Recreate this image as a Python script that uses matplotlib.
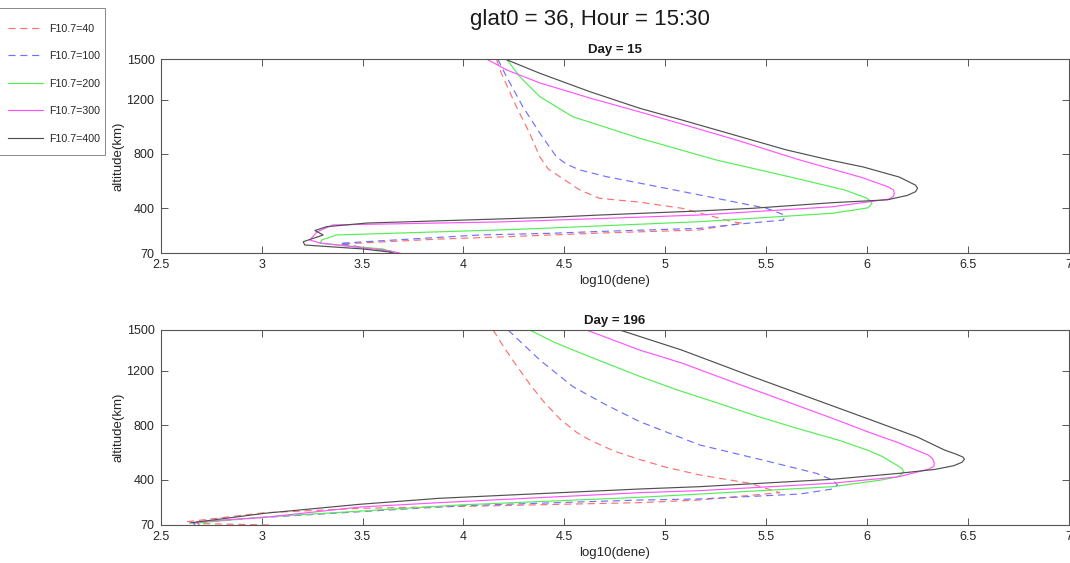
import matplotlib

matplotlib.use("Agg")
import matplotlib.pyplot as plt
from matplotlib.patches import Rectangle

# ---- data: log10(dene) vs altitude (km) ----
LABELS = ["F10.7=40", "F10.7=100", "F10.7=200", "F10.7=300", "F10.7=400"]
DAYS = [15, 196]

# Day = 15
D15_F40_X = [4.163, 4.188, 4.262, 4.328, 4.378, 4.420, 4.477, 4.576, 4.675, 4.873, 5.081, 5.170, 5.333, 5.384,
             5.259, 5.170, 4.675, 4.180, 3.883, 3.388, 3.500, 3.601, 3.650]
D15_F40_ALT = [1500, 1395, 1149, 953, 780, 690, 633, 535, 473, 445, 400, 365, 301, 289,
               262, 240, 217, 188, 173, 136, 110, 92, 70]
D15_F100_X = [4.170, 4.213, 4.294, 4.378, 4.460, 4.510, 4.577, 4.708, 4.877, 5.170, 5.500, 5.591,
              5.586, 5.368, 5.170, 4.675, 4.427, 4.081, 3.388, 3.500, 3.636, 3.670]
D15_F100_ALT = [1500, 1370, 1149, 955, 780, 725, 682, 633, 584, 498, 400, 350,
                313, 284, 252, 229, 215, 203, 142, 110, 85, 70]
D15_F200_X = [4.213, 4.279, 4.378, 4.541, 4.873, 5.252, 5.620, 5.888, 5.996, 6.015, 6.024, 6.015, 6.001,
              5.829, 5.170, 4.427, 4.180, 3.371, 3.298, 3.289, 3.450, 3.601, 3.670]
D15_F200_ALT = [1500, 1370, 1223, 1075, 916, 756, 630, 535, 476, 455, 437, 418, 402,
                363, 301, 254, 240, 203, 166, 142, 118, 100, 70]
D15_F300_X = [4.114, 4.213, 4.378, 4.625, 4.873, 5.081, 5.368, 5.650, 5.982, 6.105, 6.130, 6.135, 6.130,
              6.110, 5.829, 5.170, 4.675, 4.180, 3.353, 3.274, 3.239, 3.289, 3.601, 3.685]
D15_F300_ALT = [1500, 1420, 1324, 1213, 1110, 1021, 896, 763, 623, 557, 535, 510, 488,
                468, 411, 350, 324, 299, 277, 225, 166, 144, 92, 70]
D15_F400_X = [4.205, 4.378, 4.625, 4.873, 5.081, 5.600, 5.813, 5.981, 6.159, 6.200, 6.240, 6.250, 6.240,
              6.200, 6.100, 5.829, 5.437, 5.170, 4.675, 4.427, 4.180, 3.522, 3.322, 3.264, 3.305,
              3.206, 3.214, 3.501, 3.635, 3.650]
D15_F400_ALT = [1500, 1395, 1260, 1137, 1051, 830, 756, 704, 630, 600, 570, 547, 522,
                495, 462, 441, 400, 380, 350, 333, 321, 291, 264, 236, 203,
                153, 129, 100, 77, 70]

# Day = 196
D196_F40_X = [4.147, 4.200, 4.260, 4.330, 4.400, 4.480, 4.560, 4.630, 4.750, 4.873, 5.000, 5.170, 5.418, 5.567,
              5.440, 5.170, 4.873, 3.982, 3.488, 3.016, 2.629, 2.700, 3.042]
D196_F40_ALT = [1500, 1375, 1245, 1100, 970, 845, 750, 690, 610, 550, 495, 437, 376, 307,
                290, 253, 234, 206, 192, 160, 94, 80, 70]
D196_F100_X = [4.221, 4.378, 4.543, 4.708, 4.873, 5.170, 5.500, 5.748, 5.828, 5.854,
               5.828, 5.666, 5.170, 4.873, 3.982, 3.016, 2.660, 2.670]
D196_F100_ALT = [1500, 1280, 1084, 950, 828, 657, 540, 449, 400, 363,
                 334, 297, 261, 253, 211, 126, 85, 70]
D196_F200_X = [4.328, 4.450, 4.543, 4.718, 4.873, 5.060, 5.258, 5.450, 5.650, 5.863, 6.000, 6.077, 6.159,
               6.175, 6.180, 6.170, 6.146, 6.071, 5.828, 5.170, 4.873, 3.982, 3.016, 2.680, 2.690]
D196_F200_ALT = [1500, 1410, 1353, 1250, 1160, 1060, 965, 870, 780, 690, 620, 571, 498,
                 480, 461, 440, 422, 400, 351, 297, 273, 217, 129, 85, 70]
D196_F300_X = [4.609, 4.873, 5.081, 5.350, 5.620, 5.850, 6.000, 6.159, 6.250, 6.303, 6.325, 6.333, 6.330,
               6.308, 6.159, 5.828, 5.170, 4.873, 3.883, 3.488, 3.016, 2.678, 2.690]
D196_F300_ALT = [1500, 1353, 1258, 1110, 965, 840, 755, 671, 615, 583, 555, 522, 500,
                 481, 424, 376, 322, 307, 234, 202, 126, 94, 75]
D196_F400_X = [4.774, 5.081, 5.437, 6.020, 6.249, 6.383, 6.440, 6.475, 6.482, 6.470, 6.430, 6.338, 6.159,
               5.828, 5.170, 4.873, 3.883, 3.488, 3.016, 2.645]
D196_F400_ALT = [1500, 1353, 1155, 840, 715, 620, 590, 568, 552, 530, 505, 478, 449,
                 405, 351, 334, 266, 222, 156, 85]

X_TICKS = [2.5, 3, 3.5, 4, 4.5, 5, 5.5, 6, 6.5, 7]
X_TICK_LABELS = ["2.5", "3", "3.5", "4", "4.5", "5", "5.5", "6", "6.5", "7"]
Y_TICKS = [70, 400, 800, 1200, 1500]

# ---- style ----
COLORS = ["#ff7070", "#7070ff", "#55ee55", "#ff55ff", "#505050"]
STYLES = [(0, (6, 4)), (0, (6, 4)), "-", "-", "-"]

plt.rcParams["font.family"] = ["Liberation Sans", "DejaVu Sans"]
plt.rcParams["xtick.direction"] = "in"
plt.rcParams["ytick.direction"] = "in"

fig = plt.figure(figsize=(10.7, 5.63), dpi=100)
ax_top = fig.add_axes([0.1502, 0.5506, 0.8488, 0.3446])
ax_bot = fig.add_axes([0.1502, 0.0675, 0.8488, 0.3464])

series = {
    15: [(D15_F40_X, D15_F40_ALT), (D15_F100_X, D15_F100_ALT), (D15_F200_X, D15_F200_ALT),
         (D15_F300_X, D15_F300_ALT), (D15_F400_X, D15_F400_ALT)],
    196: [(D196_F40_X, D196_F40_ALT), (D196_F100_X, D196_F100_ALT), (D196_F200_X, D196_F200_ALT),
          (D196_F300_X, D196_F300_ALT), (D196_F400_X, D196_F400_ALT)],
}

handles = []
for ax, day in zip([ax_top, ax_bot], DAYS):
    for i, (xs, alts) in enumerate(series[day]):
        (ln,) = ax.plot(xs, alts, color=COLORS[i], linestyle=STYLES[i], linewidth=0.85, label=LABELS[i])
        if day == DAYS[0]:
            handles.append(ln)
    ax.set_xlim(2.5, 7)
    ax.set_ylim(70, 1500)
    ax.set_xticks(X_TICKS)
    ax.set_xticklabels(X_TICK_LABELS)
    ax.set_yticks(Y_TICKS)
    ax.tick_params(top=True, right=True, length=5, width=0.7, color="#555555",
                   labelsize=9, labelcolor="#262626", pad=4.5)
    for sp in ax.spines.values():
        sp.set_color("#555555")
        sp.set_linewidth(0.8)
    ax.set_xlabel("log10(dene)", fontsize=9.5, color="#262626")
    ax.set_ylabel("altitude(km)", fontsize=9.5, color="#262626")
    ax.xaxis.set_label_coords(0.5, -0.115)
    ax.yaxis.set_label_coords(-0.040, 0.5)
    ax.set_title(f"Day = {day}", fontsize=9.5, fontweight="bold", color="#1a1a1a", pad=4)

fig.text(0.551, 0.9645, "glat0 = 36, Hour = 15:30", fontsize=16, ha="center", va="center",
         color="#1a1a1a")

# legend box (left edge runs off the figure, as in the reference)
fig.patches.append(Rectangle((-0.01, 1 - 155 / 563), 0.01 + 105 / 1070, 147 / 563,
                             transform=fig.transFigure, fill=False, edgecolor="#888888",
                             linewidth=0.7))
leg = fig.legend(handles, LABELS, loc="upper left", bbox_to_anchor=(8 / 1070, 1 - 23.5 / 563),
                 fontsize=7.7, frameon=False, borderaxespad=0, borderpad=0,
                 handlelength=3.3, handletextpad=0.55, labelspacing=1.64)
for t in leg.get_texts():
    t.set_color("#262626")

fig.savefig("out.png", dpi=100)
